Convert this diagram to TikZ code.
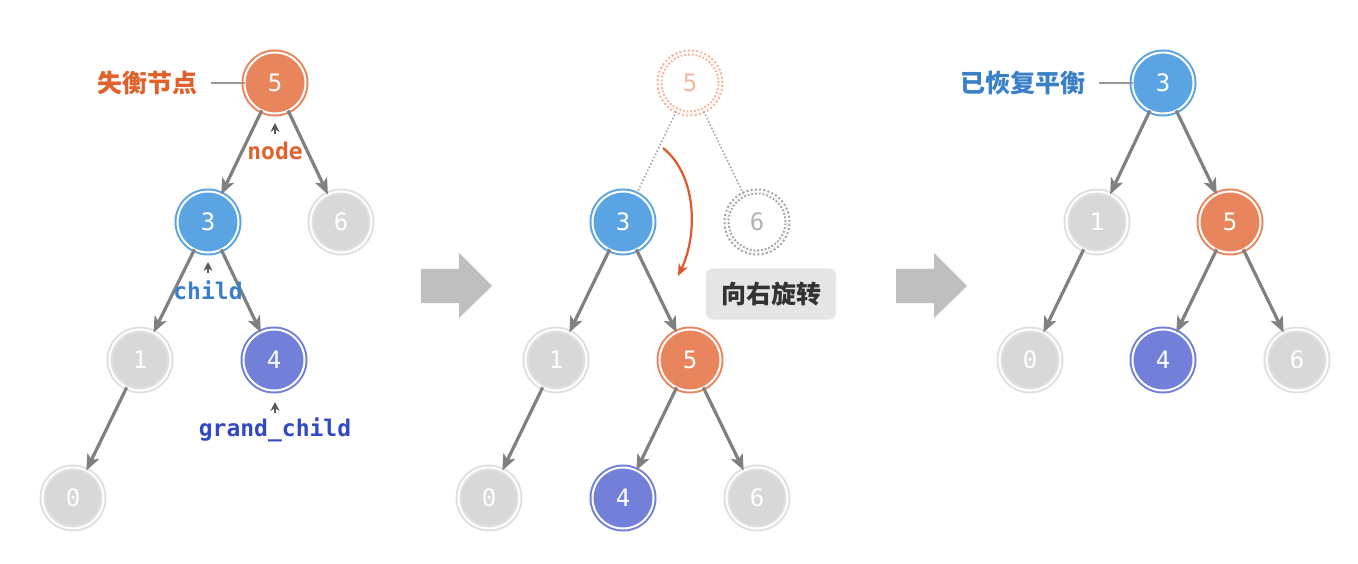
\documentclass[tikz,border=0pt]{standalone}
\usepackage{fontspec}
\setmonofont{DejaVu Sans Mono}
\newfontfamily\cjk{Noto Sans CJK SC}
\usetikzlibrary{arrows.meta}
\definecolor{corange}{HTML}{E8855C}
\definecolor{cblue}{HTML}{5BA4E4}
\definecolor{cpurple}{HTML}{7280D9}
\definecolor{cgray}{HTML}{D8D8D8}
\definecolor{cedge}{HTML}{808080}
\definecolor{torange}{HTML}{E0612B}
\definecolor{tblue}{HTML}{3A80C8}
\definecolor{tindigo}{HTML}{3349C4}
\definecolor{cred}{HTML}{E0582A}
\tikzset{
  tn/.style={circle, minimum size=61pt, inner sep=0pt, outer sep=0pt, line width=2pt,
    double=white, double distance=2pt, text=white, font=\ttfamily\fontsize{24}{24}\selectfont},
  on/.style={tn, fill=corange, draw=corange},
  bn/.style={tn, fill=cblue, draw=cblue},
  pn/.style={tn, fill=cpurple, draw=cpurple},
  gn/.style={tn, fill=cgray, draw=cgray!80!white},
  dn/.style={circle, minimum size=61pt, inner sep=0pt, line width=2pt, dotted,
    double=white, double distance=2pt, font=\ttfamily\fontsize{24}{24}\selectfont},
  edge/.style={draw=cedge, line width=3.2pt, -{Stealth[length=16pt,width=13pt,inset=4pt]}},
  dedge/.style={draw=cedge!70!white, line width=1.6pt, dotted},
  caret/.style={draw=black!65, line width=1.4pt, -{Stealth[length=9pt,width=9pt]}},
  lbl/.style={font=\ttfamily\bfseries\fontsize{23}{23}\selectfont},
  cjklbl/.style={font=\cjk\bfseries\fontsize{25}{25}\selectfont},
  bigarrow/.style={fill=black!25, draw=none},
}
\begin{document}
\begin{tikzpicture}[x=1pt,y=-1pt]
\useasboundingbox (0,0) rectangle (1358,564);
% ---- tree 1
\node[on] (a5) at (275,83) {5};
\node[bn] (a3) at (208,222) {3};
\node[gn] (a6) at (341,222) {6};
\node[gn] (a1) at (140,360) {1};
\node[pn] (a4) at (274,360) {4};
\node[gn] (a0) at (73,498) {0};
\draw[edge] (a5) -- (a3);
\draw[edge] (a5) -- (a6);
\draw[edge] (a3) -- (a1);
\draw[edge] (a3) -- (a4);
\draw[edge] (a1) -- (a0);
\node[cjklbl, text=torange] (la) at (147,83) {失衡节点};
\draw[draw=black!40, line width=1.2pt] (la.east) ++(10,0) coordinate (lae) -- (a5.west);
\node[lbl, text=torange] (ln) at (275,151) {node};
\coordinate (cn) at (275,134);
\draw[caret] (cn) -- ++(0,-11);
\node[lbl, text=tblue] (lc) at (208,290) {child};
\coordinate (cc) at (208,273);
\draw[caret] (cc) -- ++(0,-11);
\node[lbl, text=tindigo] (lg) at (275,430) {grand\_child};
\coordinate (cg) at (275,413);
\draw[caret] (cg) -- ++(0,-11);
% ---- big arrows
\fill[bigarrow] (421,269) -- (459,269) -- (459,253) -- (492,286) -- (459,318) -- (459,303) -- (421,303) -- cycle;
\fill[bigarrow] (896,269) -- (934,269) -- (934,253) -- (967,286) -- (934,318) -- (934,303) -- (896,303) -- cycle;
% ---- tree 2
\node[dn, draw=corange!60!white, text=corange!60!white] (b5o) at (690,83) {5};
\node[bn] (b3) at (623,222) {3};
\node[dn, draw=black!35, text=black!30] (b6o) at (757,222) {6};
\node[gn] (b1) at (556,360) {1};
\node[on] (b5) at (690,360) {5};
\node[gn] (b0) at (489,498) {0};
\node[pn] (b4) at (623,498) {4};
\node[gn] (b6) at (757,498) {6};
\draw[dedge] (b5o) -- (b3);
\draw[dedge] (b5o) -- (b6o);
\draw[edge] (b3) -- (b1);
\draw[edge] (b3) -- (b5);
\draw[edge] (b1) -- (b0);
\draw[edge] (b5) -- (b4);
\draw[edge] (b5) -- (b6);
\coordinate (rs) at (663,148);
\coordinate (re) at (678,276);
\draw[draw=cred, line width=2.2pt, -{Stealth[length=12pt,width=10pt]}] (rs) .. controls (697,175) and (698,235) .. (re);
\node[fill=black!10, rounded corners=7pt, minimum width=130pt, minimum height=51pt, inner sep=0pt,
  font=\cjk\bfseries\fontsize{25}{25}\selectfont, text=black!80] (rot) at (771,294) {向右旋转};
% ---- tree 3
\node[bn] (c3) at (1163,83) {3};
\node[gn] (c1) at (1097,222) {1};
\node[on] (c5) at (1230,222) {5};
\node[gn] (c0) at (1030,360) {0};
\node[pn] (c4) at (1163,360) {4};
\node[gn] (c6) at (1297,360) {6};
\draw[edge] (c3) -- (c1);
\draw[edge] (c3) -- (c5);
\draw[edge] (c1) -- (c0);
\draw[edge] (c5) -- (c4);
\draw[edge] (c5) -- (c6);
\node[cjklbl, text=tblue] (lr) at (1023,83) {已恢复平衡};
\draw[draw=black!40, line width=1.2pt] (lr.east) ++(10,0) coordinate (lre) -- (c3.west);
\end{tikzpicture}
\end{document}
